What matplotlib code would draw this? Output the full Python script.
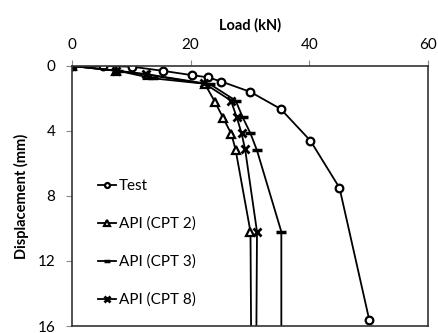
import matplotlib.pyplot as plt
import numpy as np

plt.rcParams['font.family'] = ['Lato', 'DejaVu Sans']

# load (kN) vs displacement (mm)
test_load = [0, 5.2, 10.2, 15.3, 20.3, 22.9, 25.2, 30.1, 35.2, 40.2, 45.1, 50.1]
test_disp = [0, 0.0, 0.05, 0.3, 0.57, 0.7, 0.96, 1.6, 2.65, 4.6, 7.5, 15.6]

cpt2_load = [0, 7.5, 12.8, 22.4, 24.1, 25.5, 26.9, 27.6, 30.1, 30.2]
cpt2_disp = [0, 0.3, 0.55, 1.1, 2.2, 3.2, 4.2, 5.17, 10.2, 16]

cpt3_load = [0, 7.8, 13.6, 23.3, 27.6, 28.8, 30.1, 31.2, 35.3, 35.3]
cpt3_disp = [0, 0.3, 0.76, 1.13, 2.13, 3.17, 4.15, 5.2, 10.2, 16]

cpt8_load = [0, 7.5, 12.5, 22.3, 26.8, 27.8, 28.6, 29.2, 31.2, 31.1]
cpt8_disp = [0, 0.29, 0.5, 1.07, 2.13, 3.17, 4.15, 5.13, 10.2, 16]

fig = plt.figure(figsize=(4.38, 3.33), dpi=100)
ax = fig.add_axes([0.164, 0.021, 0.813, 0.781])

ax.plot(test_load, test_disp, '-o', color='black', lw=1.3, ms=5.5,
        mfc='white', mew=1.6, label='Test')
ax.plot(cpt2_load, cpt2_disp, '-^', color='black', lw=1.3, ms=6,
        mfc='white', mew=1.6, label='API (CPT 2)', markevery=list(range(9)))
ax.plot(cpt3_load, cpt3_disp, '-_', color='black', lw=1.3, ms=7,
        mew=2.5, label='API (CPT 3)', markevery=list(range(9)))
ax.plot(cpt8_load, cpt8_disp, '-x', color='black', lw=1.3, ms=6,
        mew=2.0, label='API (CPT 8)', markevery=list(range(9)))

ax.set_xlim(0, 60)
ax.set_ylim(16, 0)
ax.set_xticks([0, 20, 40, 60])
ax.set_yticks([0, 4, 8, 12, 16])
ax.xaxis.tick_top()
ax.xaxis.set_label_position('top')
ax.tick_params(axis='both', direction='out', length=4, color='#888888',
               labelsize=11, pad=6)
ax.tick_params(axis='y', pad=8)
ax.set_xlabel('Load (kN)', fontsize=10.5, fontweight='bold', labelpad=6)
ax.set_ylabel('Displacement (mm)', fontsize=10.5, fontweight='bold', labelpad=6)
for s in ax.spines.values():
    s.set_color('#333333')
    s.set_linewidth(1.2)

ax.legend(loc='lower left', bbox_to_anchor=(0.035, 0.02), frameon=False,
          fontsize=11, handlelength=1.2, handletextpad=0.15,
          labelspacing=1.55, markerscale=0.65)

fig.savefig('out.png', dpi=100)
